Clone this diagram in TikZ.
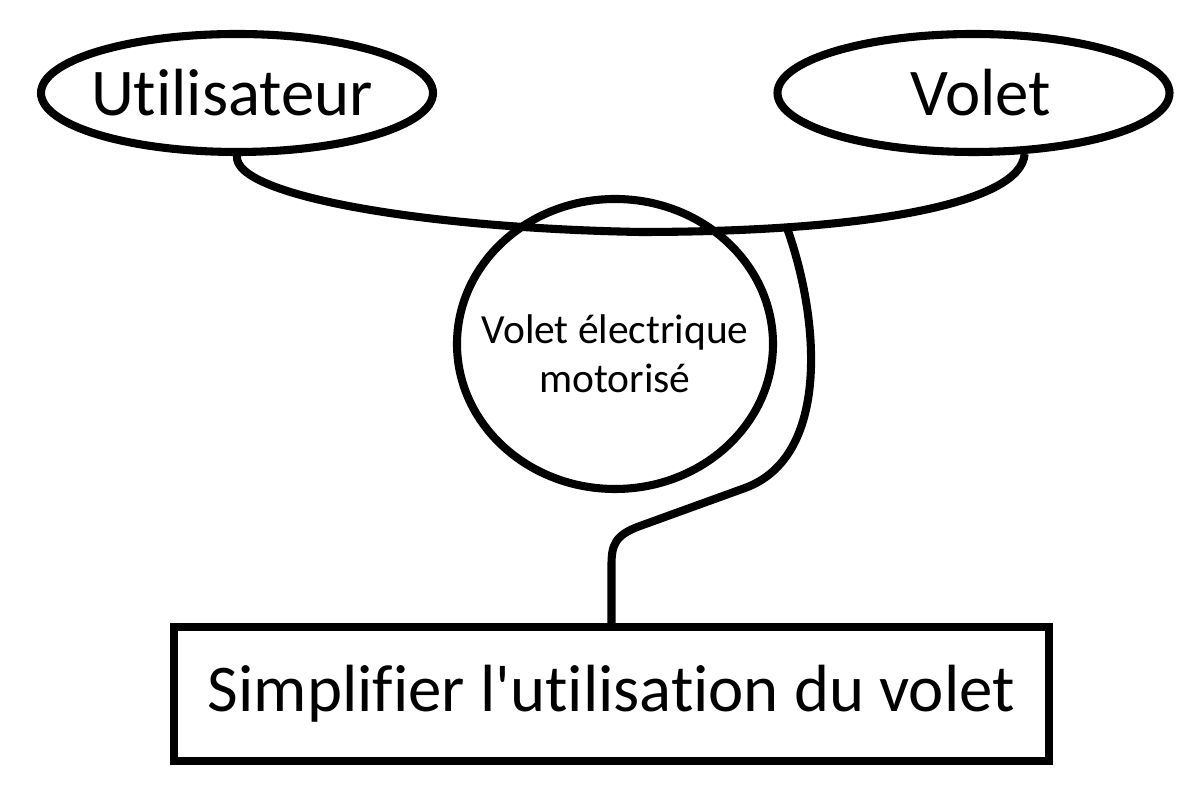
\documentclass[tikz,border=0pt]{standalone}
\usepackage{fontspec}
\setmainfont{Carlito}
\newfontfamily\carlito{Carlito}[Ligatures=NoCommon]
\usetikzlibrary{shapes.geometric}
\begin{document}
\begin{tikzpicture}[
    trait/.style={line width=2.3pt},
    acteur/.style={trait,draw,ellipse,minimum width=3.92cm,minimum height=1.18cm,inner sep=0pt},
    grand/.style={font=\carlito\fontsize{19}{23}\selectfont},
  ]
  \useasboundingbox (0,0) rectangle (12,7.97);

  \node[acteur,label={[grand,xshift=-.05cm]center:Utilisateur}] (util) at (2.37,7.04) {};
  \node[acteur,label={[grand,xshift=.07cm]center:Volet}] (volet) at (9.735,7.04) {};

  \node[acteur,minimum width=3.16cm,minimum height=2.9cm,
    label={[align=center,font=\carlito\fontsize{11.8}{13.9}\selectfont,yshift=-.1cm]center:Volet électrique\\motorisé}] (produit) at (6.15,4.53) {};

  \node[trait,draw,grand,minimum width=8.75cm,minimum height=1.34cm] (but) at (6.115,1.03) {Simplifier l'utilisation du volet};

  % corne entre les deux acteurs
  \draw[trait] (util.south) .. controls (2.33,6.02) and (4.2,5.69) .. (6.4,5.65)
    .. controls (8.6,5.65) and (10.21,5.92) .. (volet.-50);
  \coordinate (branche) at (7.87,5.69);
  \draw[trait] (branche) .. controls (8.2,4.77) and (8.3,3.4) .. (7.45,3.09) -- (6.4,2.71)
    .. controls (6.15,2.62) and (6.115,2.52) .. (6.115,2.32) -- (but.north);
\end{tikzpicture}
\end{document}
